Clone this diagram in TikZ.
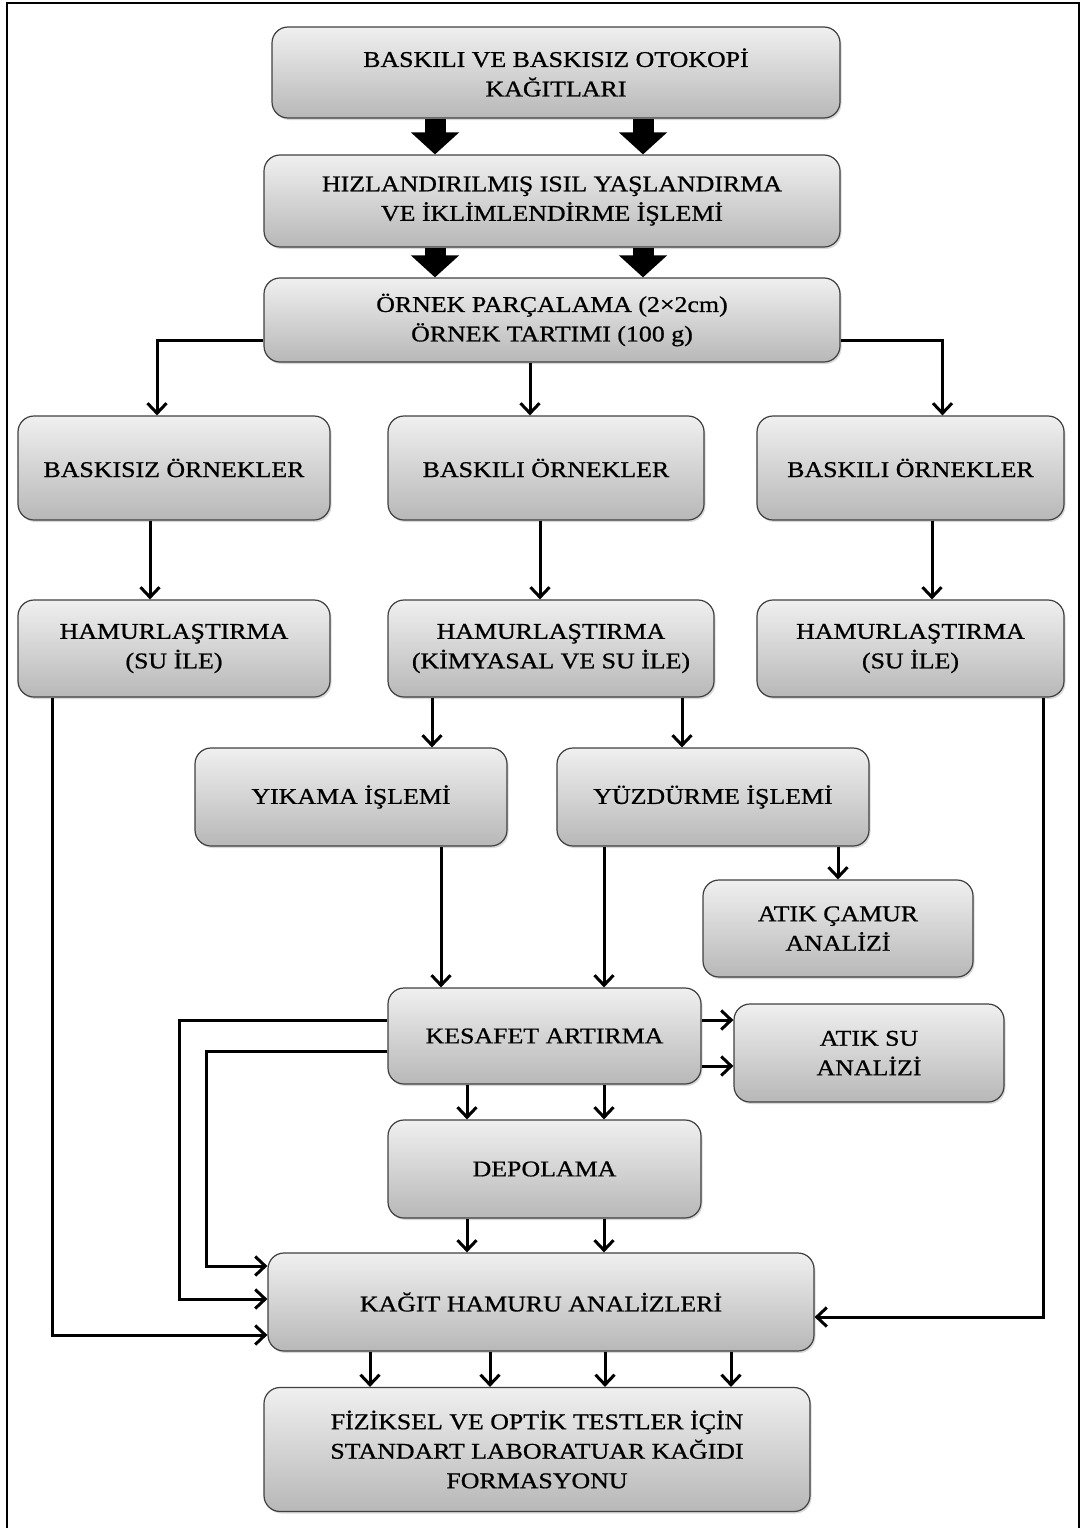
\documentclass[tikz,border=0pt]{standalone}
\usepackage{fontspec}
\setmainfont{Liberation Serif}[FakeStretch=1.15,FakeBold=0.8]
\usetikzlibrary{arrows.meta,shadows}
\begin{document}
\begin{tikzpicture}[x=1pt,y=-1pt,
  box/.style={draw=black!75, line width=1.2pt, rounded corners=16pt,
    top color=black!6, bottom color=black!28,
    drop shadow={opacity=0.3, shadow xshift=1.5pt, shadow yshift=-2pt},
    align=center, inner sep=0pt, font=\fontsize{22.5}{29.5}\selectfont},
  conn/.style={line width=3pt, -{Straight Barb[length=10pt,width=19pt]}},
  blk/.style={line width=21pt, -{Triangle[length=22pt,width=47pt]}}]
\useasboundingbox (0,0) rectangle (1081,1528);
\draw[line width=1.8pt] (7,3) rectangle (1079,1545);

\node[box, minimum width=568pt, minimum height=91pt] (n1) at (556,72.5) {BASKILI VE BASKISIZ OTOKOPİ\\KAĞITLARI};
\node[box, minimum width=576pt, minimum height=92pt] (n2) at (552,201) {HIZLANDIRILMIŞ ISIL YAŞLANDIRMA\\VE İKLİMLENDİRME İŞLEMİ};
\node[box, minimum width=576pt, minimum height=84pt] (n3) at (552,320) {ÖRNEK PARÇALAMA (2×2cm)\\ÖRNEK TARTIMI (100 g)};
\node[box, minimum width=312pt, minimum height=104pt] (n4) at (174,468) {BASKISIZ ÖRNEKLER};
\node[box, minimum width=316pt, minimum height=104pt] (n5) at (546,468) {BASKILI ÖRNEKLER};
\node[box, minimum width=307pt, minimum height=104pt] (n6) at (910.5,468) {BASKILI ÖRNEKLER};
\node[box, minimum width=312pt, minimum height=97pt] (n7) at (174,648.5) {HAMURLAŞTIRMA\\(SU İLE)};
\node[box, minimum width=326pt, minimum height=97pt] (n8) at (551,648.5) {HAMURLAŞTIRMA\\(KİMYASAL VE SU İLE)};
\node[box, minimum width=307pt, minimum height=97pt] (n9) at (910.5,648.5) {HAMURLAŞTIRMA\\(SU İLE)};
\node[box, minimum width=312pt, minimum height=98pt] (n10) at (351,797) {YIKAMA İŞLEMİ};
\node[box, minimum width=312pt, minimum height=98pt] (n11) at (713,797) {YÜZDÜRME İŞLEMİ};
\node[box, minimum width=270pt, minimum height=97pt] (n12) at (838,928.5) {ATIK ÇAMUR\\ANALİZİ};
\node[box, minimum width=313pt, minimum height=96pt] (n13) at (544.5,1036) {KESAFET ARTIRMA};
\node[box, minimum width=270pt, minimum height=98pt] (n14) at (869,1053) {ATIK SU\\ANALİZİ};
\node[box, minimum width=313pt, minimum height=98pt] (n15) at (544.5,1169) {DEPOLAMA};
\node[box, minimum width=546pt, minimum height=98pt] (n16) at (541,1302) {KAĞIT HAMURU ANALİZLERİ};
\node[box, minimum width=546pt, minimum height=124pt] (n17) at (537,1449.5) {FİZİKSEL VE OPTİK TESTLER İÇİN\\STANDART LABORATUAR KAĞIDI\\FORMASYONU};

% block arrows
\draw[blk] ([xshift=-121pt]n1.south) -- ([xshift=-117pt]n2.north);
\draw[blk] ([xshift=87pt]n1.south) -- ([xshift=91pt]n2.north);
\draw[blk] ([xshift=-117pt]n2.south) -- ([xshift=-117pt]n3.north);
\draw[blk] ([xshift=91pt]n2.south) -- ([xshift=91pt]n3.north);

% from n3
\draw[conn] ([yshift=-20pt]n3.west) -| ([xshift=-17pt]n4.north);
\draw[conn] ([xshift=-22pt]n3.south) -- ([xshift=-16pt]n5.north);
\draw[conn] ([yshift=-20pt]n3.east) -| ([xshift=32pt]n6.north);
% samples to pulping
\draw[conn] ([xshift=-24pt]n4.south) -- ([xshift=-24pt]n7.north);
\draw[conn] ([xshift=-6pt]n5.south) -- ([xshift=-11pt]n8.north);
\draw[conn] ([xshift=21.5pt]n6.south) -- ([xshift=21.5pt]n9.north);
% chemical pulping branches
\draw[conn] ([xshift=-119pt]n8.south) -- ([xshift=81pt]n10.north);
\draw[conn] ([xshift=131pt]n8.south) -- ([xshift=-31pt]n11.north);
\draw[conn] ([xshift=125pt]n11.south) -- (n12.north);
\draw[conn] ([xshift=90pt]n10.south) -- ([xshift=-103.5pt]n13.north);
\draw[conn] ([xshift=-109pt]n11.south) -- ([xshift=59.5pt]n13.north);
% thickening
\draw[conn] ([yshift=16pt]n13.east) -- ([yshift=33pt]n14.west);
\draw[conn] ([yshift=-30pt]n13.east) -- ([yshift=-13pt]n14.west);
\draw[conn] ([xshift=-77.5pt]n13.south) -- ([xshift=-77.5pt]n15.north);
\draw[conn] ([xshift=59.5pt]n13.south) -- ([xshift=59.5pt]n15.north);
\draw[conn] ([xshift=-77.5pt]n15.south) -- ([xshift=-74pt]n16.north);
\draw[conn] ([xshift=59.5pt]n15.south) -- ([xshift=63pt]n16.north);
% feedback lines
\draw[conn] ([yshift=16pt]n13.west) -- ++(-208,0) |- ([yshift=3pt]n16.west);
\draw[conn] ([yshift=-15pt]n13.west) -- ++(-181,0) |- ([yshift=36pt]n16.west);
\draw[conn] ([xshift=-122pt]n7.south) |- ([yshift=-33pt]n16.west);
\draw[conn] ([xshift=132.5pt]n9.south) |- ([yshift=-15pt]n16.east);
% to final
\draw[conn] ([xshift=-171pt]n16.south) -- ([xshift=-167pt]n17.north);
\draw[conn] ([xshift=-51pt]n16.south) -- ([xshift=-47pt]n17.north);
\draw[conn] ([xshift=64pt]n16.south) -- ([xshift=68pt]n17.north);
\draw[conn] ([xshift=190pt]n16.south) -- ([xshift=194pt]n17.north);
\end{tikzpicture}
\end{document}
